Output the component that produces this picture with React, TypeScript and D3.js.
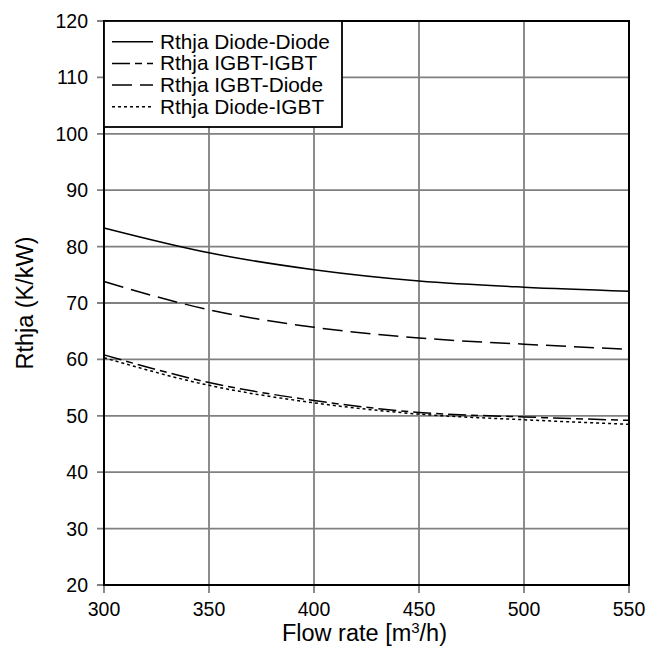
import React from "react";
import * as d3 from "d3";

// values
const flow = [300, 350, 400, 450, 500, 550];
const diodeDiode = [83.3, 78.9, 75.9, 73.9, 72.8, 72.1];
const igbtIgbt = [60.8, 55.9, 52.7, 50.6, 49.8, 49.2];
const igbtDiode = [73.8, 68.8, 65.7, 63.8, 62.7, 61.8];
const diodeIgbt = [60.3, 55.4, 52.3, 50.3, 49.3, 48.5];

const xTicks = [300, 350, 400, 450, 500, 550];
const yTicks = [20, 30, 40, 50, 60, 70, 80, 90, 100, 110, 120];

const series = [
  { name: "Rthja Diode-Diode", values: diodeDiode, dash: null },
  { name: "Rthja IGBT-IGBT", values: igbtIgbt, dash: "18,5,7,5" },
  { name: "Rthja IGBT-Diode", values: igbtDiode, dash: "20,8" },
  { name: "Rthja Diode-IGBT", values: diodeIgbt, dash: "3,3" },
];

const W = 647;
const H = 648;
const margin = { left: 104, right: 18, top: 21, bottom: 63 };
const font = "'Liberation Sans', Arial, sans-serif";

export default function App() {
  const x = d3.scaleLinear().domain([300, 550]).range([margin.left, W - margin.right]);
  const y = d3.scaleLinear().domain([20, 120]).range([H - margin.bottom, margin.top]);

  const line = d3
    .line<number>()
    .x((_, i) => x(flow[i]))
    .y((d) => y(d))
    .curve(d3.curveMonotoneX);

  const [x0, x1] = x.range();
  const [y0, y1] = y.range();

  return (
    <svg
      width={W}
      height={H}
      style={{ position: "absolute", left: 0, top: 0, background: "#fff" }}
      fontFamily={font}
    >
      {/* grid with tick stubs */}
      <g stroke="#808080" strokeWidth={1.8}>
        {xTicks.map((t) => (
          <line key={"gx" + t} x1={x(t)} x2={x(t)} y1={y1} y2={y0 + 8} />
        ))}
        {yTicks.map((t) => (
          <line key={"gy" + t} x1={x0 - 7} x2={x1} y1={y(t)} y2={y(t)} />
        ))}
      </g>

      {/* curves */}
      <g fill="none" stroke="#000" strokeWidth={1.5}>
        {series.map((s) => (
          <path key={s.name} d={line(s.values) ?? ""} strokeDasharray={s.dash ?? undefined} />
        ))}
      </g>

      {/* frame */}
      <rect x={x0} y={y1} width={x1 - x0} height={y0 - y1} fill="none" stroke="#000" strokeWidth={2} />

      {/* tick labels */}
      <g fontSize={19.5} fill="#000">
        {xTicks.map((t) => (
          <text key={"tx" + t} x={x(t)} y={616} textAnchor="middle">
            {t}
          </text>
        ))}
        {yTicks.map((t) => (
          <text key={"ty" + t} x={88} y={y(t) + 7} textAnchor="end">
            {t}
          </text>
        ))}
      </g>

      {/* axis titles */}
      <text x={(x0 + x1) / 2 - 2} y={641} textAnchor="middle" fontSize={23.5}>
        Flow rate [m<tspan baselineShift="super" fontSize={15}>3</tspan>/h)
      </text>
      <text
        transform={`translate(33,${(y0 + y1) / 2}) rotate(-90)`}
        textAnchor="middle"
        fontSize={23.5}
      >
        Rthja (K/kW)
      </text>

      {/* legend */}
      <g>
        <rect x={x0} y={y1} width={238} height={106} fill="#fff" stroke="#000" strokeWidth={1.8} />
        {series.map((s, i) => {
          const cy = 41.7 + i * 21.7;
          return (
            <g key={"lg" + s.name}>
              <line
                x1={112}
                x2={153}
                y1={cy}
                y2={cy}
                stroke="#000"
                strokeWidth={1.5}
                strokeDasharray={s.dash ?? undefined}
              />
              <text x={160} y={cy + 7} fontSize={20.8}>
                {s.name}
              </text>
            </g>
          );
        })}
      </g>
    </svg>
  );
}
